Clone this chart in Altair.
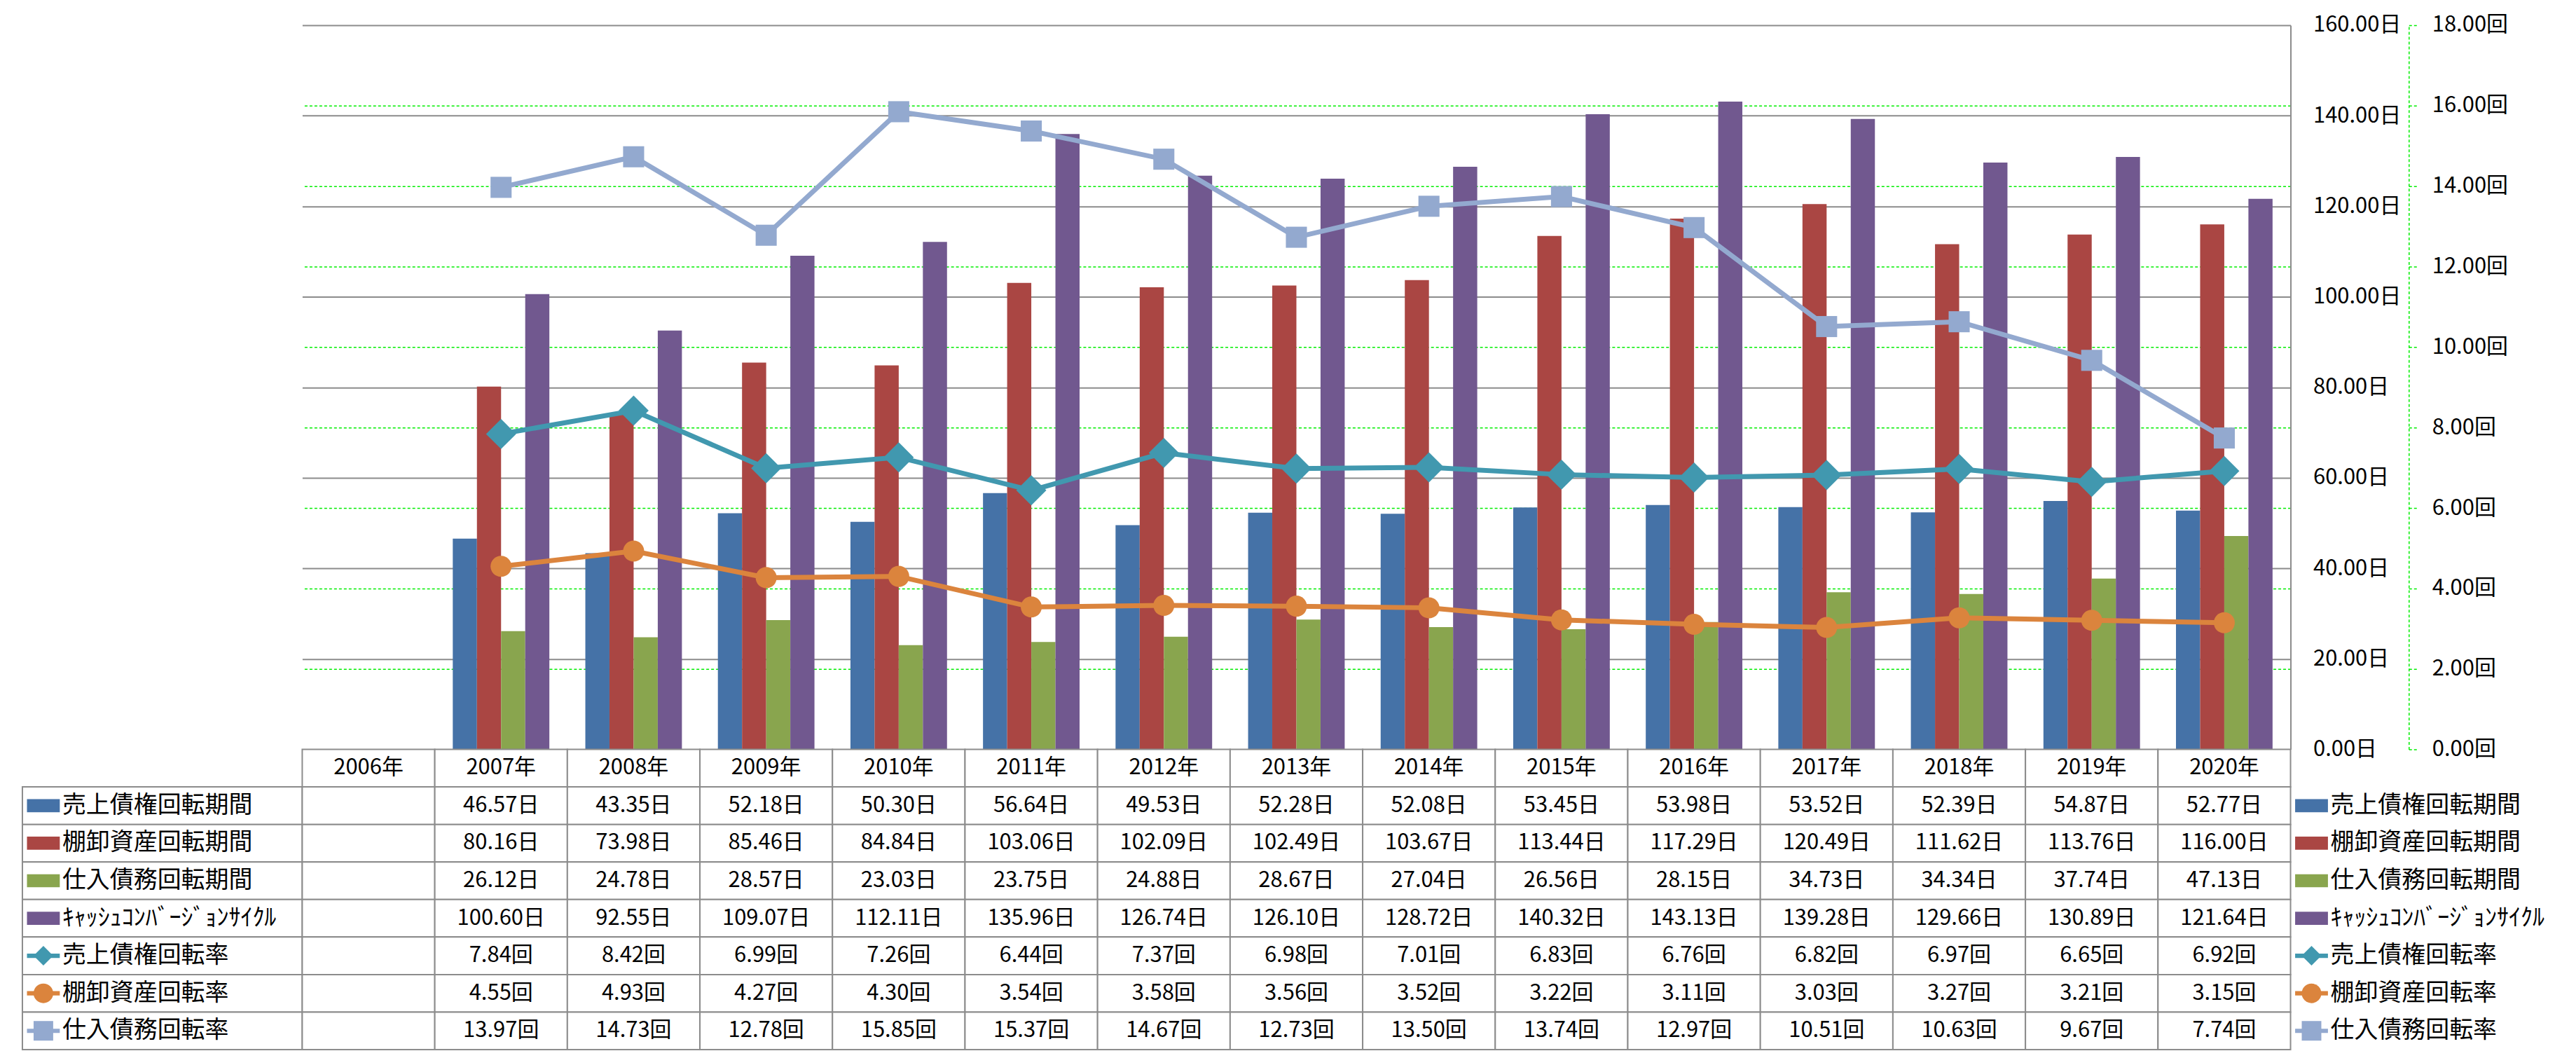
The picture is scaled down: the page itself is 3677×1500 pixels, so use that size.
import altair as alt
import pandas as pd

FONT = "Noto Sans CJK JP"
GRID = "#8C8C8C"
GREEN = "#00EE00"

years = ["2006年", "2007年", "2008年", "2009年", "2010年", "2011年", "2012年", "2013年",
         "2014年", "2015年", "2016年", "2017年", "2018年", "2019年", "2020年"]

bar_series = ["売上債権回転期間", "棚卸資産回転期間", "仕入債務回転期間", "ｷｬｯｼｭｺﾝﾊﾞｰｼﾞｮﾝｻｲｸﾙ"]
line_series = ["売上債権回転率", "棚卸資産回転率", "仕入債務回転率"]

ar_days = [None, 46.57, 43.35, 52.18, 50.30, 56.64, 49.53, 52.28, 52.08, 53.45, 53.98, 53.52, 52.39, 54.87, 52.77]
inv_days = [None, 80.16, 73.98, 85.46, 84.84, 103.06, 102.09, 102.49, 103.67, 113.44, 117.29, 120.49, 111.62, 113.76, 116.00]
ap_days = [None, 26.12, 24.78, 28.57, 23.03, 23.75, 24.88, 28.67, 27.04, 26.56, 28.15, 34.73, 34.34, 37.74, 47.13]
ccc_days = [None, 100.60, 92.55, 109.07, 112.11, 135.96, 126.74, 126.10, 128.72, 140.32, 143.13, 139.28, 129.66, 130.89, 121.64]
ar_turn = [None, 7.84, 8.42, 6.99, 7.26, 6.44, 7.37, 6.98, 7.01, 6.83, 6.76, 6.82, 6.97, 6.65, 6.92]
inv_turn = [None, 4.55, 4.93, 4.27, 4.30, 3.54, 3.58, 3.56, 3.52, 3.22, 3.11, 3.03, 3.27, 3.21, 3.15]
ap_turn = [None, 13.97, 14.73, 12.78, 15.85, 15.37, 14.67, 12.73, 13.50, 13.74, 12.97, 10.51, 10.63, 9.67, 7.74]

bar_colors = ["#4572A7", "#AA4643", "#89A54E", "#71588F"]
line_colors = ["#4198AF", "#DB843D", "#93A9CF"]

bar_values = [ar_days, inv_days, ap_days, ccc_days]
line_values = [ar_turn, inv_turn, ap_turn]

bar_df = pd.DataFrame([dict(year=y, series=s, value=v)
                       for s, vals in zip(bar_series, bar_values)
                       for y, v in zip(years, vals) if v is not None])
line_df = pd.DataFrame([dict(year=y, series=s, value=v)
                        for s, vals in zip(line_series, line_values)
                        for y, v in zip(years, vals) if v is not None])

HDR = "年度"
row_order = [HDR] + bar_series + line_series
cells = [dict(row=HDR, year=y, text=y) for y in years]
for s, vals in zip(bar_series, bar_values):
    for y, v in zip(years, vals):
        cells.append(dict(row=s, year=y, text="" if v is None else f"{v:.2f}日"))
for s, vals in zip(line_series, line_values):
    for y, v in zip(years, vals):
        cells.append(dict(row=s, year=y, text="" if v is None else f"{v:.2f}回"))
cell_df = pd.DataFrame(cells)

sym_df = pd.DataFrame({"row": bar_series + line_series})
marker_df = pd.DataFrame({"row": line_series})

PLOT_W = 2842
PLOT_H = 1035
SIDE_W = 400
TABLE_H = 429

x_scale = alt.Scale(domain=years, paddingInner=0, paddingOuter=0)

# ---------------- main plot ----------------
bars = alt.Chart(bar_df).mark_bar().encode(
    x=alt.X("year:N", scale=x_scale, axis=None),
    xOffset=alt.XOffset("series:N", scale=alt.Scale(domain=bar_series, paddingInner=0, paddingOuter=0.745)),
    y=alt.Y("value:Q", scale=alt.Scale(domain=[0, 160]),
            axis=alt.Axis(orient="right", values=list(range(0, 161, 20)),
                          labelExpr="format(datum.value, '.2f') + '日'",
                          grid=True, gridColor=GRID, gridWidth=2,
                          domain=True, domainColor=GRID, domainWidth=2,
                          ticks=False, labelPadding=32, labelFont=FONT, labelFontSize=31,
                          labelColor="#000000", title=None)),
    color=alt.Color("series:N", scale=alt.Scale(domain=bar_series, range=bar_colors), legend=None),
)

line_y = alt.Y("value:Q", scale=alt.Scale(domain=[0, 18]),
               axis=alt.Axis(orient="right", offset=169, values=list(range(0, 19, 2)),
                             labelExpr="format(datum.value, '.2f') + '回'",
                             grid=True, gridColor=GREEN, gridDash=[4, 3], gridWidth=1.5,
                             gridOpacity={"condition": {"test": "datum.value >= 18", "value": 0}, "value": 1},
                             domain=True, domainColor=GREEN, domainDash=[4, 3], domainWidth=1.5,
                             ticks=True, tickColor=GREEN, tickDash=[4, 3], tickWidth=1.5, tickSize=12,
                             labelPadding=21, labelFont=FONT, labelFontSize=31,
                             labelColor="#000000", title=None))
line_color = alt.Color("series:N", scale=alt.Scale(domain=line_series, range=line_colors), legend=None)

lines = alt.Chart(line_df).mark_line(strokeWidth=7).encode(
    x=alt.X("year:N", scale=x_scale, axis=None), y=line_y, color=line_color)

plot_marker_paths = ["M-1,0L0,-1L1,0L0,1Z",
                     "M-0.7,0A0.7,0.7 0 1,0 0.7,0A0.7,0.7 0 1,0 -0.7,0Z",
                     "M-0.7,-0.7L0.7,-0.7L0.7,0.7L-0.7,0.7Z"]
points = alt.Chart(line_df).mark_point(filled=True, opacity=1, size=1850).encode(
    x=alt.X("year:N", scale=x_scale, axis=None), y=line_y, color=line_color,
    shape=alt.Shape("series:N", scale=alt.Scale(domain=line_series, range=plot_marker_paths), legend=None))

line_layer = alt.layer(lines, points)
main = alt.layer(bars, line_layer).resolve_scale(y="independent", color="independent").properties(
    width=PLOT_W, height=PLOT_H)

# ---------------- table ----------------
ty = alt.Y("row:N", scale=alt.Scale(domain=row_order, paddingInner=0, paddingOuter=0), axis=None)
tx = alt.X("year:N", scale=x_scale, axis=None)
table_cells = alt.Chart(cell_df).mark_rect(fill="white", stroke=GRID, strokeWidth=2).encode(x=tx, y=ty)
table_text = alt.Chart(cell_df).mark_text(font=FONT, fontSize=31, color="#000000", baseline="middle").encode(
    x=tx, y=ty, text="text:N")
table = alt.layer(table_cells, table_text).properties(width=PLOT_W, height=TABLE_H)

# ---------------- side panels (row labels / legend) ----------------
bar_sym = "M-1,-0.4L1,-0.4L1,0.4L-1,0.4Z"
line_sym = "M-1,-0.13L1,-0.13L1,0.13L-1,0.13Z"
sym_paths = [bar_sym] * 4 + [line_sym] * 3
all_colors = bar_colors + line_colors


def side_panel(with_cells):
    layers = []
    if with_cells:
        layers.append(alt.Chart(sym_df).mark_rect(fill="white", stroke=GRID, strokeWidth=2).encode(
            x=alt.value(0), x2=alt.value(SIDE_W), y=ty))
    layers.append(alt.Chart(sym_df).mark_point(filled=True, opacity=1, size=2200).encode(
        x=alt.value(30), y=ty,
        color=alt.Color("row:N", scale=alt.Scale(domain=bar_series + line_series, range=all_colors), legend=None),
        shape=alt.Shape("row:N", scale=alt.Scale(domain=bar_series + line_series, range=sym_paths), legend=None)))
    layers.append(alt.Chart(marker_df).mark_point(filled=True, opacity=1, size=784).encode(
        x=alt.value(30), y=ty,
        color=alt.Color("row:N", scale=alt.Scale(domain=line_series, range=line_colors), legend=None),
        shape=alt.Shape("row:N", scale=alt.Scale(domain=line_series, range=["diamond", "circle", "square"]), legend=None)))
    layers.append(alt.Chart(sym_df).mark_text(font=FONT, fontSize=34, color="#000000", align="left",
                                              baseline="middle").encode(
        x=alt.value(57), y=ty, text="row:N"))
    return alt.layer(*layers).resolve_scale(color="independent", shape="independent").properties(
        width=SIDE_W, height=TABLE_H)


labels = side_panel(True)
legend = side_panel(False)


def blank(w, h):
    return alt.Chart(pd.DataFrame({"a": [0]})).mark_point(opacity=0).encode(
        x=alt.value(0), y=alt.value(0)).properties(width=w, height=h)


chart = alt.concat(blank(SIDE_W, PLOT_H), main, blank(SIDE_W, PLOT_H),
                   labels, table, legend,
                   columns=3, spacing=0, bounds="flush", align="each").properties(
    padding={"left": 21, "top": 11, "right": 0, "bottom": 0}
).configure(font=FONT).configure_view(stroke="transparent", strokeWidth=0)

chart.save("out.html", embed_options={"renderer": "svg", "actions": False})
